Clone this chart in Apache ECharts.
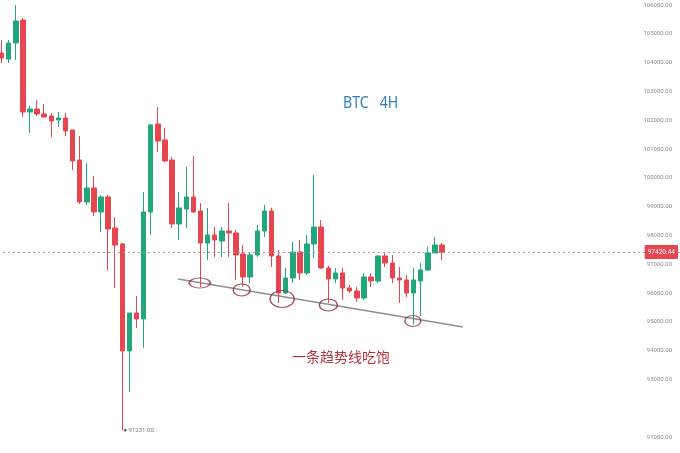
<!DOCTYPE html>
<html>
<head>
<meta charset="utf-8">
<script src="https://cdn.jsdelivr.net/npm/echarts@6/dist/echarts.min.js"></script>
<style>
html,body{margin:0;padding:0;background:#fff;}
#chart{width:680px;height:453px;}
</style>
</head>
<body>
<div id="chart"></div>
<script>
// ---- data (4H BTC candles: [open, close, low, high]) ----
const slotCount = 96;
const categories = Array.from({length: slotCount}, (_, i) => 'K' + i);
const candles = [
  [104333, 104160, 103986, 104785],
  [104125, 104681, 103986, 104785],
  [104681, 105444, 104090, 106000],
  [105479, 102285, 102111, 105549],
  [102285, 102389, 101556, 102493],
  [102389, 102216, 102146, 102702],
  [102216, 102111, 102077, 102563],
  [102146, 101972, 101417, 102250],
  [102007, 102077, 101764, 102285],
  [102077, 101625, 101451, 102250],
  [101660, 100583, 100271, 101660],
  [100618, 99160, 99091, 101451],
  [99160, 99646, 99056, 100514],
  [99646, 98813, 98674, 100063],
  [98813, 99334, 98118, 99403],
  [99334, 98222, 96799, 99403],
  [98257, 97667, 96174, 98639],
  [97702, 93987, 91231, 97737],
  [93987, 95306, 92563, 95306],
  [95306, 95098, 94785, 95897],
  [95098, 98813, 94091, 99507],
  [98813, 101834, 98014, 101868],
  [101868, 101278, 100896, 102458],
  [101313, 100583, 100549, 101729],
  [100618, 98396, 98257, 100722],
  [98396, 98952, 97841, 99507],
  [98917, 99334, 98257, 100375],
  [99334, 98813, 98778, 100757],
  [98848, 97736, 96209, 99125],
  [97736, 98014, 97146, 98952],
  [98014, 97841, 97250, 98292],
  [97806, 98153, 97250, 98292],
  [98153, 98084, 97250, 99125],
  [98084, 97320, 96452, 98188],
  [97355, 96556, 96209, 97667],
  [96556, 97320, 96348, 97424],
  [97320, 98153, 97250, 98362],
  [98153, 98848, 97945, 99056],
  [98848, 97285, 96903, 98952],
  [97285, 96000, 95653, 97493],
  [96000, 96521, 95966, 96869],
  [96521, 97424, 96348, 97771],
  [97424, 96695, 96452, 97841],
  [96695, 97702, 96625, 98014],
  [97702, 98292, 97215, 100097],
  [98292, 96869, 96834, 98535],
  [96869, 96487, 95653, 96938],
  [96487, 96695, 96348, 96869],
  [96695, 96174, 95757, 96869],
  [96174, 96070, 96000, 96278],
  [96070, 95827, 95688, 96209],
  [95827, 96556, 95757, 96695],
  [96556, 96417, 96209, 96695],
  [96417, 97285, 96348, 97320],
  [97285, 97042, 96903, 97389],
  [97042, 96521, 96348, 97320],
  [96521, 96452, 95653, 96903],
  [96452, 96000, 95862, 96625],
  [96000, 96452, 94900, 96869],
  [96417, 96799, 95200, 97042],
  [96799, 97389, 96764, 97598],
  [97389, 97667, 97389, 97945],
  [97667, 97420.44, 97146, 97737]
];
const lastPrice = 97420.44;
// trendline endpoints: [slot position, price]
const trendLine = [[24.84, 96487], [64.96, 94820]];
// circled touch points: [slot position, price]
const touchPoints = [[27.9, 96348], [33.8, 96105], [39.5, 95792], [46.0, 95584], [57.9, 95028]];
const touchSizes = [[21, 10], [17, 12], [24, 17], [18, 12], [16, 11]];
const hiddenTicks = [92000];
const titleText = 'BTC   4H';
const noteText = '一条趋势线吃饱';

// ---- chart ----
const chart = echarts.init(document.getElementById('chart'), null, {renderer: 'canvas'});
const UP = '#22a67c';
const DOWN = '#e5464f';
chart.setOption({
  animation: false,
  backgroundColor: '#ffffff',
  grid: {left: -2, right: 0, top: -23.8, bottom: -12.8, containLabel: false, outerBoundsMode: 'none'},
  xAxis: [
    {type: 'category', data: categories, show: false, boundaryGap: true},
    {type: 'value', min: -0.5, max: slotCount - 0.5, show: false}
  ],
  yAxis: {
    type: 'value', position: 'right', min: 90000, max: 107000, interval: 1000,
    axisLine: {show: false}, axisTick: {show: false}, splitLine: {show: false},
    axisLabel: {
      inside: true, margin: 8, fontSize: 6, color: '#8c8c8c',
      fontFamily: 'Roboto, sans-serif',
      formatter: v => hiddenTicks.includes(v) ? '' : v.toFixed(2)
    }
  },
  series: [
    {
      type: 'candlestick',
      data: candles,
      barWidth: 5,
      itemStyle: {color: UP, color0: DOWN, borderColor: UP, borderColor0: DOWN, borderWidth: 1},
      markLine: {
        silent: true, symbol: ['none', 'none'],
        lineStyle: {type: [2, 3], color: '#a0a0a0', width: 1},
        label: {
          show: true, position: 'insideEnd', distance: 2,
          formatter: () => lastPrice.toFixed(2),
          color: '#ffffff', fontSize: 6.5, fontFamily: 'Roboto, sans-serif',
          backgroundColor: DOWN, padding: [4, 3, 3, 3], borderRadius: 1
        },
        data: [{yAxis: lastPrice}]
      },
      markPoint: {
        silent: true,
        symbol: 'circle', symbolSize: 2.5, symbolOffset: [3, 0],
        itemStyle: {color: '#555'},
        label: {
          show: true, position: 'right', distance: 2, fontSize: 6, color: '#777',
          fontFamily: 'Roboto, sans-serif',
          formatter: p => Number(p.value).toFixed(2)
        },
        data: [{type: 'min', valueDim: 'lowest'}]
      }
    },
    {
      type: 'line', xAxisIndex: 1, data: trendLine, symbol: 'none', silent: true,
      lineStyle: {color: '#8f8f8f', width: 1.6}, z: 1
    },
    {
      type: 'scatter', xAxisIndex: 1, data: touchPoints, symbol: 'circle', silent: true,
      symbolSize: (val, p) => touchSizes[p.dataIndex],
      itemStyle: {color: 'rgba(0,0,0,0)', borderColor: '#8e2c3c', borderWidth: 1.3},
      z: 3
    }
  ],
  graphic: [
    {
      type: 'text', x: 343, y: 95, scaleX: 0.83,
      style: {text: titleText, fill: '#2f7fbf', font: '17px "Noto Sans", sans-serif'}
    },
    {
      type: 'text', left: 292, top: 350,
      style: {text: noteText, fill: '#b3333d', font: '14px "Noto Sans CJK SC", sans-serif'}
    }
  ]
});
</script>
</body>
</html>
